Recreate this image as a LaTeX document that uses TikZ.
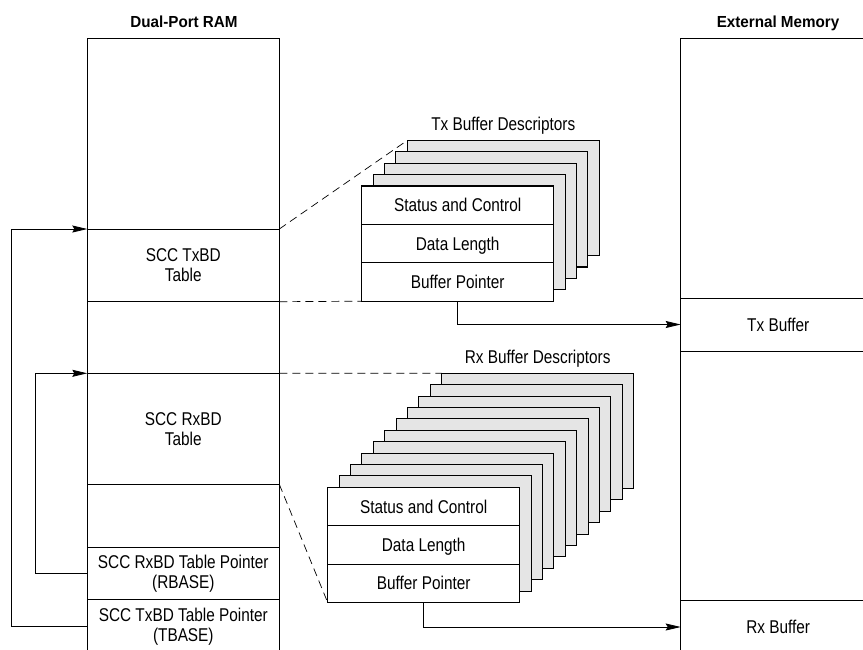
\documentclass[tikz,border=0pt]{standalone}
\usepackage{fontspec}
\setmainfont{Liberation Sans}[FakeStretch=0.83]
\newfontfamily\titlefont{Liberation Sans}[FakeStretch=0.95]
\usetikzlibrary{arrows.meta}
\definecolor{bdgray}{gray}{0.9}
\tikzset{
  memrow/.style={draw, line width=0.9pt, inner sep=0pt, outer sep=0pt, minimum width=192pt, anchor=north west, align=center},
  bdrow/.style={draw, line width=1.1pt, fill=white, inner sep=0pt, outer sep=0pt, minimum width=192pt, minimum height=38.4pt,
    text height=13.2pt, text depth=0pt, anchor=north west},
  bdback/.style={draw, line width=1.1pt, fill=bdgray, inner sep=0pt, outer sep=0pt, minimum width=192pt, minimum height=115.2pt, anchor=north west},
  link/.style={dash pattern=on 8pt off 5pt, line width=0.7pt},
  ptr/.style={line width=0.8pt, -{Stealth[length=15pt,width=7pt,inset=2pt]}},
  title/.style={font=\titlefont\bfseries\fontsize{16}{18}\selectfont, anchor=base},
}

\begin{document}
\begin{tikzpicture}[x=1pt, y=-1pt, every node/.style={font=\fontsize{18.5}{20}\selectfont}]
      \useasboundingbox (0,0) rectangle (863,649);
      % Dual-Port RAM
      \node[title] (ramtitle) at (184,27.5) {Dual-Port RAM};
      \node[memrow, minimum height=190.7pt] (ramtop) at (87.3,38.3) {};
      \node[memrow, minimum height=72.7pt] (txbd) at (87.3,229) {SCC TxBD\\Table};
      \node[memrow, minimum height=71.6pt] (ramgap1) at (87.3,301.7) {};
      \node[memrow, minimum height=111pt] (rxbd) at (87.3,373.3) {SCC RxBD\\Table};
      \node[memrow, minimum height=63.4pt] (ramgap2) at (87.3,484.3) {};
      \node[memrow, minimum height=51.6pt] (rbase) at (87.3,547.7) {SCC RxBD Table Pointer\\(RBASE)};
      \node[memrow, minimum height=54pt] (tbase) at (87.3,599.3) {SCC TxBD Table Pointer\\(TBASE)};
      % External Memory
      \node[title] (exttitle) at (778,27.5) {External Memory};
      \node[memrow, minimum width=195pt, minimum height=259.7pt] (extop) at (680.7,38.3) {};
      \node[memrow, minimum width=195pt, minimum height=53pt] (txbuf) at (680.7,298) {Tx Buffer};
      \node[memrow, minimum width=195pt, minimum height=249pt] (extgap) at (680.7,351) {};
      \node[memrow, minimum width=195pt, minimum height=54pt] (rxbuf) at (680.7,600) {Rx Buffer};
      % Tx buffer descriptors
      \foreach \i in {4,...,1}
        \node[bdback] (txback\i) at (361.7+\i*11.4, 186-\i*11.4) {};
      \node[bdrow] (txsc) at (361.7,186) {Status and Control};
      \node[bdrow] (txdl) at (txsc.south west) {Data Length};
      \node[bdrow] (txbp) at (txdl.south west) {Buffer Pointer};
      \node[anchor=base] (txlabel) at ([yshift=9.5pt]txback4.north) {Tx Buffer Descriptors};
      % Rx buffer descriptors
      \foreach \i in {10,...,1}
        \node[bdback] (rxback\i) at (327.7+\i*11.4, 487.3-\i*11.4) {};
      \node[bdrow] (rxsc) at (327.7,487.3) {Status and Control};
      \node[bdrow] (rxdl) at (rxsc.south west) {Data Length};
      \node[bdrow] (rxbp) at (rxdl.south west) {Buffer Pointer};
      \node[anchor=base] (rxlabel) at ([yshift=10pt]rxback10.north) {Rx Buffer Descriptors};
      % dashed links
      \draw[link] (txbd.north east) -- (txback4.north west);
      \draw[link] (txbd.south east) -- (txbp.south west);
      \draw[link] (rxbd.north east) -- (rxback10.north west);
      \draw[link] (rxbd.south east) -- (rxbp.south west);
      % pointers
      \draw[ptr] (txbp.south) |- (txbuf.west);
      \draw[ptr] (rxbp.south) |- (rxbuf.west);
      \draw[ptr] (tbase.west) -- ++(-75.6,0) |- (txbd.north west);
      \draw[ptr] (rbase.west) -- ++(-52.3,0) |- (rxbd.north west);
    \end{tikzpicture}
\end{document}
